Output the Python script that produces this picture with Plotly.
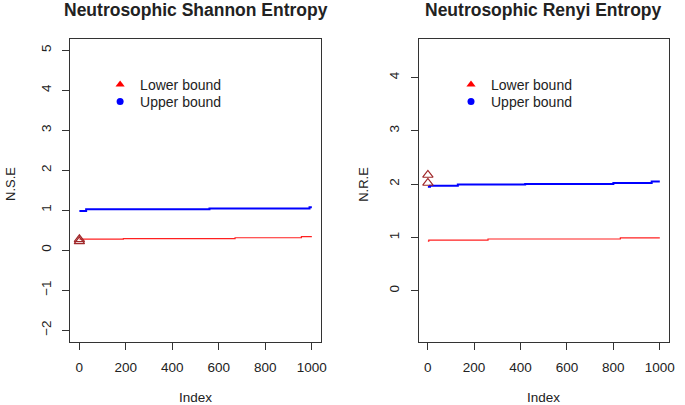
import plotly.graph_objects as go

# step breakpoints (index, value)
sh_lower_idx = [1, 190, 670, 955, 1000]
sh_lower_val = [0.275, 0.29, 0.31, 0.34, 0.34]
sh_upper_idx = [1, 30, 560, 990, 1000]
sh_upper_val = [0.98, 1.02, 1.04, 1.07, 1.07]
sh_first_idx = [1, 1]
sh_first_val = [0.27, 0.22]

re_lower_idx = [1, 5, 260, 830, 1000]
re_lower_val = [0.93, 0.95, 0.97, 0.99, 0.99]
re_upper_idx = [1, 10, 130, 420, 800, 965, 1000]
re_upper_val = [1.95, 1.97, 1.99, 2.0, 2.02, 2.05, 2.05]
re_first_idx = [1, 1]
re_first_val = [2.17, 2.02]

x_ticks = [0, 200, 400, 600, 800, 1000]
sh_yticks = [-2, -1, 0, 1, 2, 3, 4, 5]
re_yticks = [0, 1, 2, 3, 4]

W, H = 685, 405
FONT = "Liberation Sans, Arial, sans-serif"
TXT = "#222222"

fig = go.Figure()


def add_panel(xa, ya, legs, lo_x, lo_y, up_x, up_y, f_x, f_y):
    fig.add_trace(go.Scatter(x=lo_x, y=lo_y, mode="lines", line_shape="hv",
                             line=dict(color="#ff2020", width=1.2),
                             xaxis=xa, yaxis=ya, showlegend=False))
    fig.add_trace(go.Scatter(x=up_x, y=up_y, mode="lines", line_shape="hv",
                             line=dict(color="#0000ff", width=2),
                             xaxis=xa, yaxis=ya, showlegend=False))
    fig.add_trace(go.Scatter(x=f_x, y=f_y, mode="markers",
                             marker=dict(symbol="triangle-up-open", size=9,
                                         color="#a0282a", line=dict(width=1.2)),
                             xaxis=xa, yaxis=ya, showlegend=False))
    # legend entries, one legend each so the spacing can be set
    fig.add_trace(go.Scatter(x=[None], y=[None], mode="markers", name="Lower bound",
                             marker=dict(symbol="triangle-up", size=8, color="#ff0000"),
                             xaxis=xa, yaxis=ya, legend=legs[0]))
    fig.add_trace(go.Scatter(x=[None], y=[None], mode="markers", name="Upper bound",
                             marker=dict(symbol="circle", size=7, color="#0000ff"),
                             xaxis=xa, yaxis=ya, legend=legs[1]))


add_panel("x", "y", ["legend", "legend2"], sh_lower_idx, sh_lower_val,
          sh_upper_idx, sh_upper_val, sh_first_idx, sh_first_val)
add_panel("x2", "y2", ["legend3", "legend4"], re_lower_idx, re_lower_val,
          re_upper_idx, re_upper_val, re_first_idx, re_first_val)

box_top = 1 - 39 / H
box_bot = 1 - 341.7 / H

axis_common = dict(showgrid=False, zeroline=False, showline=True, mirror=True,
                   linecolor="#333333", linewidth=1, ticks="outside", ticklen=7,
                   tickcolor="#333333", tickfont=dict(family=FONT, size=13.5, color=TXT))


def leg(px, py):
    return dict(x=px / W, y=1 - py / H, xanchor="left", yanchor="middle",
                bgcolor="rgba(0,0,0,0)", font=dict(family=FONT, size=14, color=TXT))


fig.update_layout(
    width=W, height=H,
    margin=dict(l=0, r=0, t=0, b=0),
    plot_bgcolor="white", paper_bgcolor="white",
    xaxis=dict(domain=[70.7 / W, 324 / W], range=[-39, 1040], tickvals=x_ticks,
               anchor="y", ticklabelstandoff=6, **axis_common),
    yaxis=dict(domain=[box_bot, box_top], range=[-2.29, 5.28], tickvals=sh_yticks,
               anchor="x", tickangle=-90, ticklabelstandoff=6, **axis_common),
    xaxis2=dict(domain=[422.3 / W, 675 / W], range=[-39, 1040], tickvals=x_ticks,
                anchor="y2", ticklabelstandoff=6, **axis_common),
    yaxis2=dict(domain=[box_bot, box_top], range=[-0.956, 4.72], tickvals=re_yticks,
                anchor="x2", tickangle=-90, ticklabelstandoff=6, **axis_common),
    legend=leg(101, 85),
    legend2=leg(101, 102),
    legend3=leg(455, 85),
    legend4=leg(455, 102),
)

ann = [
    ("<b>Neutrosophic Shannon Entropy</b>", 197.4, 10, 0, 17.5),
    ("<b>Neutrosophic Renyi Entropy</b>", 548.6, 10, 0, 17.5),
    ("Index", 197.4, 397, 0, 13.5),
    ("Index", 548.6, 397, 0, 13.5),
    ("N.S.E", 10, 184, -90, 13),
    ("N.R.E", 366, 184, -90, 13),
]
for text, px, py, ang, size in ann:
    fig.add_annotation(text=text, x=px / W, y=1 - py / H, xref="paper", yref="paper",
                       showarrow=False, textangle=ang, xanchor="center", yanchor="middle",
                       font=dict(family=FONT, size=size, color=TXT))

# drop the page's default body margin so the figure sits at the window corner
fig.write_html("out.html", config={"displayModeBar": False},
               post_script="document.body.style.margin='0';")
